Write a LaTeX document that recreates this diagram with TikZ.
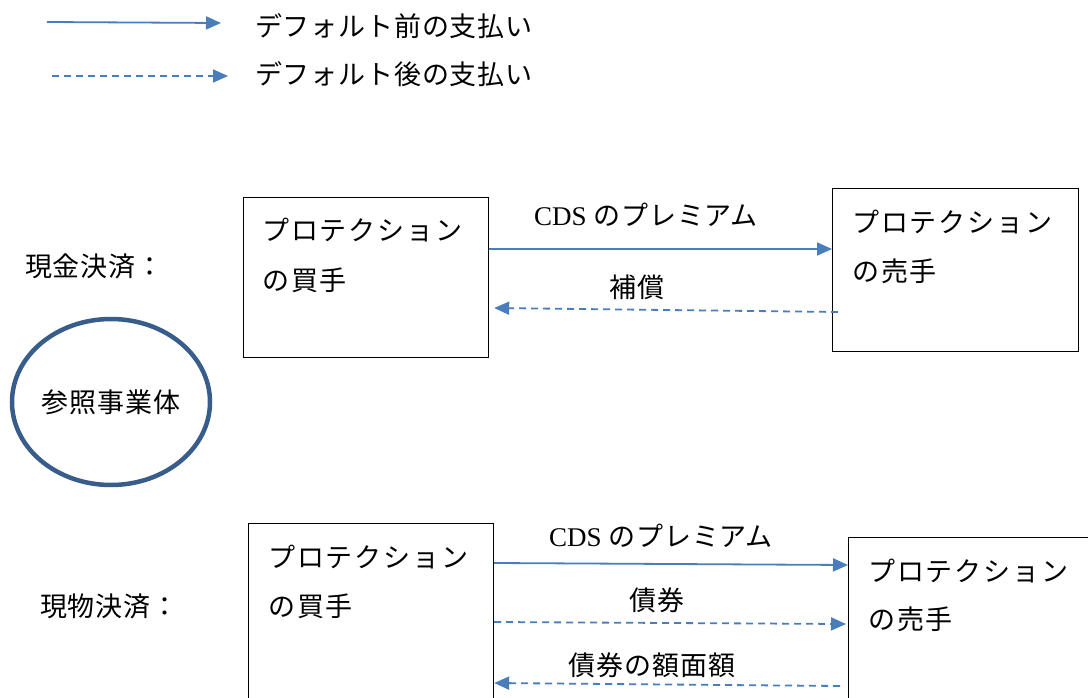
\documentclass[tikz,border=0pt]{standalone}
\usepackage{fontspec}
\setmainfont{Liberation Serif}
\newfontfamily\jp{Noto Sans CJK JP}[LetterSpace=3]
\newfontfamily\jpw{Noto Sans CJK JP}[LetterSpace=7]
\usetikzlibrary{arrows.meta,calc,shapes.geometric}
\definecolor{arrowblue}{HTML}{4A7EBB}
\definecolor{ringblue}{HTML}{385D8A}
\begin{document}
\begin{tikzpicture}[x=1pt,y=-1pt,
  every node/.style={inner sep=0pt, font=\fontsize{27}{30}\selectfont\jp},
  boxnode/.style={draw=black, line width=1.2pt, anchor=north west, minimum width=#1},
  txt/.style={anchor=west},
  btxt/.style={anchor=west, font=\fontsize{27}{30}\selectfont\jpw},
  arr/.style={draw=arrowblue, line width=1.8pt, -{Triangle[length=15pt,width=13pt]}},
  dsh/.style={arr, dash pattern=on 7pt off 5pt}]
\useasboundingbox (0,0) rectangle (1088,698);
\clip (0,0) rectangle (1088,698);
\fill[white] (0,0) rectangle (1088,698);

% legend
\coordinate (l1a) at (47,22);
\coordinate (l1b) at (221,23);
\coordinate (l2a) at (52,76);
\coordinate (l2b) at (228,76);
\draw[arr] (l1a) -- (l1b);
\draw[dsh] (l2a) -- (l2b);
\node[txt] (lt1) at (255,26) {デフォルト前の支払い};
\node[txt] (lt2) at (255,74) {デフォルト後の支払い};

% cash settlement
\node[txt] (cash) at (25,266) {現金決済：};
\node[boxnode=245pt, minimum height=160pt] (b1) at (243,197) {};
\node[boxnode=246pt, minimum height=163pt] (s1) at (832,188) {};
\node[btxt] (b1t1) at (262,230) {プロテクション};
\node[btxt] (b1t2) at (262,280) {の買手};
\node[btxt] (s1t1) at (852,222) {プロテクション};
\node[btxt] (s1t2) at (852,271) {の売手};
\draw[arr] ($(b1.north east)+(0,52)$) -- ($(s1.north west)+(0,61)$);
\draw[dsh] ($(s1.north west)+(6,124)$) -- ($(b1.north east)+(5,111)$);
\node (p1) at (646,215) {{\rmfamily CDS} のプレミアム};
\node (c1) at (637,287) {補償};

% reference entity
\node[ellipse, draw=ringblue, line width=4.5pt, minimum width=198pt, minimum height=166pt] (ref) at (111,402) {参照事業体};

% physical settlement
\node[txt] (phys) at (40,606) {現物決済：};
\node[boxnode=245pt, minimum height=200pt] (b2) at (248,523) {};
\node[boxnode=260pt, minimum height=200pt] (s2) at (848,537) {};
\node[btxt] (b2t1) at (268,557) {プロテクション};
\node[btxt] (b2t2) at (268,606) {の買手};
\node[btxt] (s2t1) at (868,571) {プロテクション};
\node[btxt] (s2t2) at (868,619) {の売手};
\draw[arr] ($(b2.north east)+(0,40)$) -- ($(s2.north west)+(0,28)$);
\draw[dsh] ($(b2.north east)+(0,99)$) -- ($(s2.north west)+(-2,87)$);
\draw[dsh] ($(s2.north west)+(-8,149)$) -- ($(b2.north east)+(0,160)$);
\node (p2) at (661,536) {{\rmfamily CDS} のプレミアム};
\node (c2) at (657,600) {債券};
\node (c3) at (652,665) {債券の額面額};
\end{tikzpicture}
\end{document}
